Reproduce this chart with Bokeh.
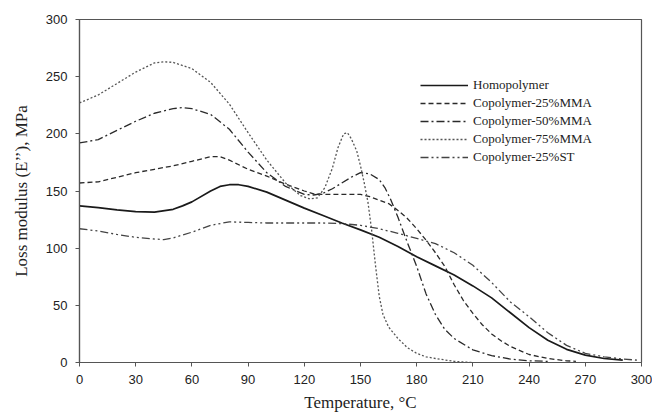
from bokeh.plotting import figure
from bokeh.models import Legend, LegendItem, FixedTicker
from bokeh.embed import file_html
from bokeh.resources import INLINE

# Loss modulus (MPa) versus temperature (°C)
homo_t = [0, 10, 20, 30, 40, 50, 55, 60, 70, 75, 80, 85, 90, 100, 110, 120, 130, 140, 150,
          160, 170, 180, 190, 200, 210, 220, 230, 240, 250, 260, 270, 280, 290]
homo_v = [137, 135.5, 133.5, 132, 131.5, 134, 137, 140.5, 150, 154, 155.5, 155.5, 154, 149,
          142, 135, 128.5, 122, 116, 109.5, 101.5, 92.5, 84.5, 76.5, 67, 56.5, 43.5, 30.5,
          19.5, 11.5, 6.5, 3.5, 2]

mma25_t = [0, 10, 20, 30, 40, 50, 60, 70, 75, 80, 90, 100, 110, 120, 125, 130, 140, 150,
           155, 160, 165, 170, 175, 180, 185, 190, 195, 200, 205, 210, 215, 220, 225,
           230, 240, 250, 260, 265]
mma25_v = [157, 158, 162, 166, 169, 172, 176, 180, 180, 177, 169, 163, 156, 150, 147.5,
           147, 147, 147, 145, 142, 139, 133, 126, 117, 107, 96, 84, 68, 54, 43, 33, 25,
           19, 14, 7, 3.5, 1.5, 1]

mma50_t = [0, 10, 20, 30, 40, 50, 55, 60, 70, 80, 90, 100, 110, 120, 125, 130, 135, 140,
           145, 150, 155, 160, 163, 166, 170, 175, 180, 185, 190, 195, 200, 210, 220,
           230, 240, 250]
mma50_v = [192, 195, 203, 211, 218, 222, 223, 222, 217, 204, 184, 166, 154, 147, 146.5,
           148, 152, 157, 162, 166, 165, 160, 153, 143, 127, 105, 84, 60, 42, 29, 21, 11,
           6, 3, 1.5, 1]

mma75_t = [0, 10, 20, 30, 40, 45, 50, 60, 70, 80, 90, 100, 110, 118, 123, 127, 131, 135,
           138, 141, 143, 145, 148, 150, 152, 154, 156, 158, 160, 162, 165, 170, 175,
           180, 185, 190, 200, 210]
mma75_v = [227, 234, 244, 254, 262, 263, 262.5, 257, 245, 226, 201, 177, 157, 146, 143,
           144, 153, 170, 188, 200, 201, 196, 185, 172, 157, 140, 115, 85, 58, 42, 31,
           21, 13, 8, 5, 3.5, 1, 0]

st25_t = [0, 10, 20, 30, 40, 45, 50, 60, 70, 80, 90, 100, 110, 120, 130, 140, 150, 160,
          170, 180, 190, 200, 210, 220, 230, 240, 250, 260, 270, 280, 290, 298]
st25_v = [117, 115, 112, 109.5, 108, 107.5, 109, 114, 120, 123, 122.5, 122, 122, 122, 122,
          121.5, 120, 117, 113, 108.5, 104, 96, 85, 70, 53, 40, 26, 15, 8, 5, 3, 2]

names = ["Homopolymer", "Copolymer-25%MMA", "Copolymer-50%MMA",
         "Copolymer-75%MMA", "Copolymer-25%ST"]

x_ticks = list(range(0, 301, 30))
y_ticks = list(range(0, 301, 50))

p = figure(width=652, height=420, output_backend="svg", toolbar_location=None,
           x_range=(0, 300), y_range=(0, 300),
           min_border_left=79, min_border_right=11, min_border_top=19, min_border_bottom=58)
p.background_fill_color = "white"
p.border_fill_color = "white"
p.outline_line_color = "#555555"
p.outline_line_width = 1.2
p.grid.visible = False

series = [
    (homo_t, homo_v, None, "#1a1a1a", 1.7),
    (mma25_t, mma25_v, "5 3", "#2a2a2a", 1.3),
    (mma50_t, mma50_v, "8 3 2 3", "#2a2a2a", 1.3),
    (mma75_t, mma75_v, "2 2", "#555555", 1.3),
    (st25_t, st25_v, "8 3 2 3 2 3", "#444444", 1.3),
]

renderers = []
for t, v, dash, color, lw in series:
    kw = dict(line_color=color, line_width=lw, line_join="round")
    if dash:
        kw["line_dash"] = dash
    renderers.append(p.line(t, v, **kw))

for ax in (p.xaxis[0], p.yaxis[0]):
    ax.axis_line_color = "#555555"
    ax.axis_line_width = 1.2
    ax.major_tick_line_color = "#555555"
    ax.major_tick_in = 0
    ax.major_tick_out = 4
    ax.minor_tick_line_color = None
    ax.major_label_text_font = "Liberation Sans"
    ax.major_label_text_font_size = "13px"
    ax.major_label_text_color = "#222222"
    ax.axis_label_text_font = "Liberation Serif"
    ax.axis_label_text_font_size = "17px"
    ax.axis_label_text_font_style = "normal"
    ax.axis_label_text_color = "#222222"

p.xaxis[0].ticker = FixedTicker(ticks=x_ticks)
p.yaxis[0].ticker = FixedTicker(ticks=y_ticks)
p.xaxis[0].axis_label = "Temperature, °C"
p.yaxis[0].axis_label = "Loss modulus (E’’), MPa"
p.xaxis[0].major_label_standoff = 8
p.yaxis[0].major_label_standoff = 8
p.xaxis[0].axis_label_standoff = 6
p.yaxis[0].axis_label_standoff = 12

legend = Legend(
    items=[LegendItem(label=n, renderers=[r]) for n, r in zip(names, renderers)],
    location=(341, 196),
    orientation="vertical",
    border_line_color=None,
    background_fill_alpha=0,
    padding=0,
    margin=0,
    spacing=0,
    glyph_width=48,
    glyph_height=18,
    label_height=18,
    label_standoff=5,
    label_text_font="Liberation Serif",
    label_text_font_size="13px",
    label_text_color="#222222",
)
p.add_layout(legend, "center")

open("out.html", "w").write(file_html(p, INLINE))
